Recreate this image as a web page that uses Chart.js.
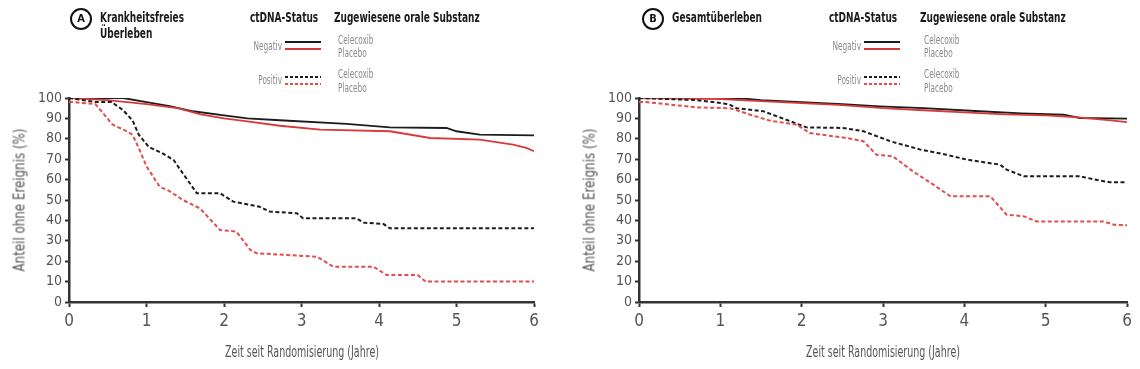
<!DOCTYPE html>
<html><head><meta charset="utf-8">
<script src="https://cdn.jsdelivr.net/npm/chart.js@4.4.1/dist/chart.umd.min.js"></script>
<style>
body{margin:0;background:#fff;width:1140px;height:369px;position:relative;overflow:hidden;font-family:"DejaVu Sans Condensed","Liberation Sans Narrow","Liberation Sans",sans-serif;}
canvas{position:absolute;top:0}
.t{position:absolute;white-space:nowrap;line-height:1;transform-origin:0 50%;}
.b{font-weight:bold;color:#1a1a1a;font-size:13.5px;transform:scaleX(0.74)}
.g{color:#8a8a8a;font-size:12px;transform:scaleX(0.68)}
.gr{color:#8a8a8a;font-size:12px;transform:scaleX(0.68);transform-origin:100% 50%;text-align:right}
.circ{position:absolute;width:18px;height:18px;border:2px solid #111;border-radius:50%;text-align:center;font-weight:bold;font-size:11px;line-height:18px;color:#111}
.ln{position:absolute;height:2px}
.ax{position:absolute;white-space:nowrap;line-height:1;color:#555}
</style></head><body>
<canvas id="cA" width="570" height="369" style="left:0"></canvas>
<canvas id="cB" width="570" height="369" style="left:570px"></canvas>
<script>
// ---- data (years since randomisation, % without event) ----
const xTicks = [0,1,2,3,4,5,6];
const yTicks = [0,10,20,30,40,50,60,70,80,90,100];
const seriesNames = ["Celecoxib","Placebo"];
const statusNames = ["Negativ","Positiv"];

// Panel A: Krankheitsfreies Überleben
const A_negCel_t = [0,0.7,1.0,1.3,1.6,2.0,2.3,2.72,3.58,4.14,4.87,5.0,5.3,6.0];
const A_negCel_s = [100,100,98,96,93.5,91.5,90,89.1,87.3,85.6,85.3,83.7,82,81.7];
const A_negPla_t = [0,0.5,1.0,1.4,1.7,2.0,2.3,2.72,3.24,4.14,4.66,5.3,5.73,5.9,6.0];
const A_negPla_s = [100,99,97,95,92,90,88.5,86.4,84.5,83.7,80.4,79.6,77.1,75.5,73.9];
const A_posCel_t = [0,0.35,0.55,0.7,0.82,0.9,1.03,1.2,1.35,1.47,1.65,1.95,2.12,2.46,2.59,2.94,3.02,3.71,3.8,4.06,4.14,6.0];
const A_posCel_s = [100,98,98,94,89,82,76,73,69.6,63,53.3,53.3,49.2,46.7,44.3,43.5,41,41,38.9,38.2,36.1,36.1];
const A_posPla_t = [0,0.05,0.34,0.43,0.56,0.73,0.82,0.9,1.0,1.17,1.29,1.47,1.69,1.95,2.16,2.34,2.42,3.2,3.41,3.93,4.1,4.5,4.6,6.0];
const A_posPla_s = [98,98,97,93,87,84,82,75.5,66.5,56.5,54.5,50,45.9,35.3,34.5,25.5,23.9,22.2,17.3,17.3,13.2,13.2,10,10];

// Panel B: Gesamtüberleben
const B_negCel_t = [0,1.2,1.5,2.0,2.5,2.96,3.5,4.19,4.7,5.22,5.42,6.0];
const B_negCel_s = [100,100,99,98,97,95.9,95,93.5,92.5,91.8,90.2,89.9];
const B_negPla_t = [0,1.0,1.5,2.0,2.5,3.0,3.5,4.0,4.5,5.0,5.4,5.8,6.0];
const B_negPla_s = [100,99.5,98.5,97.5,96.5,95,94,93,92,91.5,90.5,89,88.2];
const B_posCel_t = [0,0.7,0.91,1.1,1.2,1.53,1.86,2.06,2.51,2.76,3.09,3.46,3.78,4.03,4.44,4.52,4.73,5.42,5.67,5.79,6.0];
const B_posCel_s = [100,99,98,97,95,93.5,88.6,85.6,85.3,83.7,78.8,74.7,72.2,69.8,67.3,64.9,61.6,61.6,59.5,58.7,58.7];
const B_posPla_t = [0,0.09,0.71,1.12,1.37,1.61,1.94,2.1,2.55,2.76,2.92,3.12,3.37,3.62,3.83,4.32,4.52,4.73,4.89,5.71,5.84,6.0];
const B_posPla_s = [98,98,95.4,95,91.8,88.9,86.9,82.8,80.4,78.8,72.2,71.4,64,57.5,51.8,51.8,42.8,42,39.5,39.5,37.9,37.6];

const panelLetters = ["A","B"];
const panelTitles = [["Krankheitsfreies","Überleben"],["Gesamtüberleben"]];
const legendHead = ["ctDNA-Status","Zugewiesene orale Substanz"];
const xTitle = "Zeit seit Randomisierung (Jahre)";
const yTitle = "Anteil ohne Ereignis (%)";

// ---- styling ----
const FAM = '"DejaVu Sans Condensed","Liberation Sans Narrow","Liberation Sans",sans-serif';
const BLACK = '#1c1c1c', RED = '#d83a3a', RED_D = '#e24e4e';
const DASH = [4,2.5];

function pts(t,s){return t.map((v,i)=>({x:v,y:s[i]}));}
function ds(t,s,color,dashed){
  return {data:pts(t,s),borderColor:color,borderWidth:dashed?2:1.8,borderDash:dashed?DASH:[],
          pointRadius:0,tension:0,fill:false,borderCapStyle:'butt'};
}
function makeChart(id,datasets,padRight){
  return new Chart(document.getElementById(id),{
    type:'line',
    data:{datasets},
    options:{
      responsive:false,animation:false,devicePixelRatio:1,
      layout:{padding:{top:98,right:padRight,left:0,bottom:0}},
      plugins:{legend:{display:false},tooltip:{enabled:false}},
      scales:{
        x:{type:'linear',min:xTicks[0],max:xTicks[xTicks.length-1],
           afterBuildTicks(s){s.ticks=xTicks.map(v=>({value:v}));},
           ticks:{font:{family:FAM,size:17},color:'#555',padding:4,maxRotation:0},
           grid:{drawOnChartArea:false,drawTicks:true,tickLength:5,tickColor:'#333',tickWidth:2},
           border:{color:'#333',width:2.5},
           afterFit(s){s.height=67;}},
        y:{type:'linear',min:yTicks[0],max:yTicks[yTicks.length-1],
           afterBuildTicks(s){s.ticks=yTicks.map(v=>({value:v}));},
           ticks:{font:{family:FAM,size:14},color:'#555',padding:3},
           grid:{drawOnChartArea:false,drawTicks:true,tickLength:4,tickColor:'#333',tickWidth:2},
           border:{color:'#333',width:2.5},
           afterFit(s){s.width=69;}}
      }
    }
  });
}
const chA = makeChart('cA',[
  ds(A_posPla_t,A_posPla_s,RED_D,true),
  ds(A_posCel_t,A_posCel_s,BLACK,true),
  ds(A_negPla_t,A_negPla_s,RED,false),
  ds(A_negCel_t,A_negCel_s,BLACK,false)
],36);
const chB = makeChart('cB',[
  ds(B_posPla_t,B_posPla_s,RED_D,true),
  ds(B_posCel_t,B_posCel_s,BLACK,true),
  ds(B_negPla_t,B_negPla_s,RED,false),
  ds(B_negCel_t,B_negCel_s,BLACK,false)
],13);

// ---- headers, legends, axis titles ----
function el(cls,html,style){const d=document.createElement('div');d.className=cls;d.innerHTML=html;Object.assign(d.style,style);document.body.appendChild(d);return d;}
function line(x,y,w,color,dashed){
  const st={left:x+'px',top:(y-1)+'px',width:w+'px'};
  st.background=dashed?`repeating-linear-gradient(to right,${color} 0 3px,transparent 3px 5px)`:color;
  el('ln','',st);
}
const charts=[chA,chB], canvOff=[0,570], titleOff=[0,572], legOff=[0,579], zugOff=[0,586];
[0,1].forEach(p=>{
  const to=titleOff[p], lo=legOff[p], zo=zugOff[p];
  el('circ',panelLetters[p],{left:(to+70)+'px',top:'8px'});
  panelTitles[p].forEach((tx,i)=>el('t b',tx,{left:(to+100)+'px',top:(11+i*16)+'px'}));
  el('t b',legendHead[0],{left:(lo+250)+'px',top:'11px'});
  el('t b',legendHead[1],{left:(zo+334)+'px',top:'11px'});
  statusNames.forEach((nm,k)=>{
    const cy=[46,80][k];
    el('t gr',nm,{left:(lo+222)+'px',top:(cy-6)+'px',width:'60px'});
    const y1=[42,77][k], y2=[49,84][k];
    line(lo+285,y1,36,BLACK,k===1);
    line(lo+285,y2,36,k===1?RED_D:RED,k===1);
    el('t g',seriesNames[0],{left:(zo+338)+'px',top:([40,74][k]-6)+'px'});
    el('t g',seriesNames[1],{left:(zo+338)+'px',top:([53,88][k]-6)+'px'});
  });
  // axis titles centred on the chart area
  const ca=charts[p].chartArea, ox=canvOff[p];
  const xt=el('ax',xTitle,{left:(ox+(ca.left+ca.right)/2)+'px',top:'352px',fontSize:'16px'});
  xt.style.transform='translate(-50%,-50%) scaleX(0.66)';
  const yt=el('ax',yTitle,{left:(ox+20)+'px',top:((ca.top+ca.bottom)/2)+'px',fontSize:'15px'});
  yt.style.transform='translate(-50%,-50%) rotate(-90deg) scaleX(0.88)';
});
</script>
</body></html>
